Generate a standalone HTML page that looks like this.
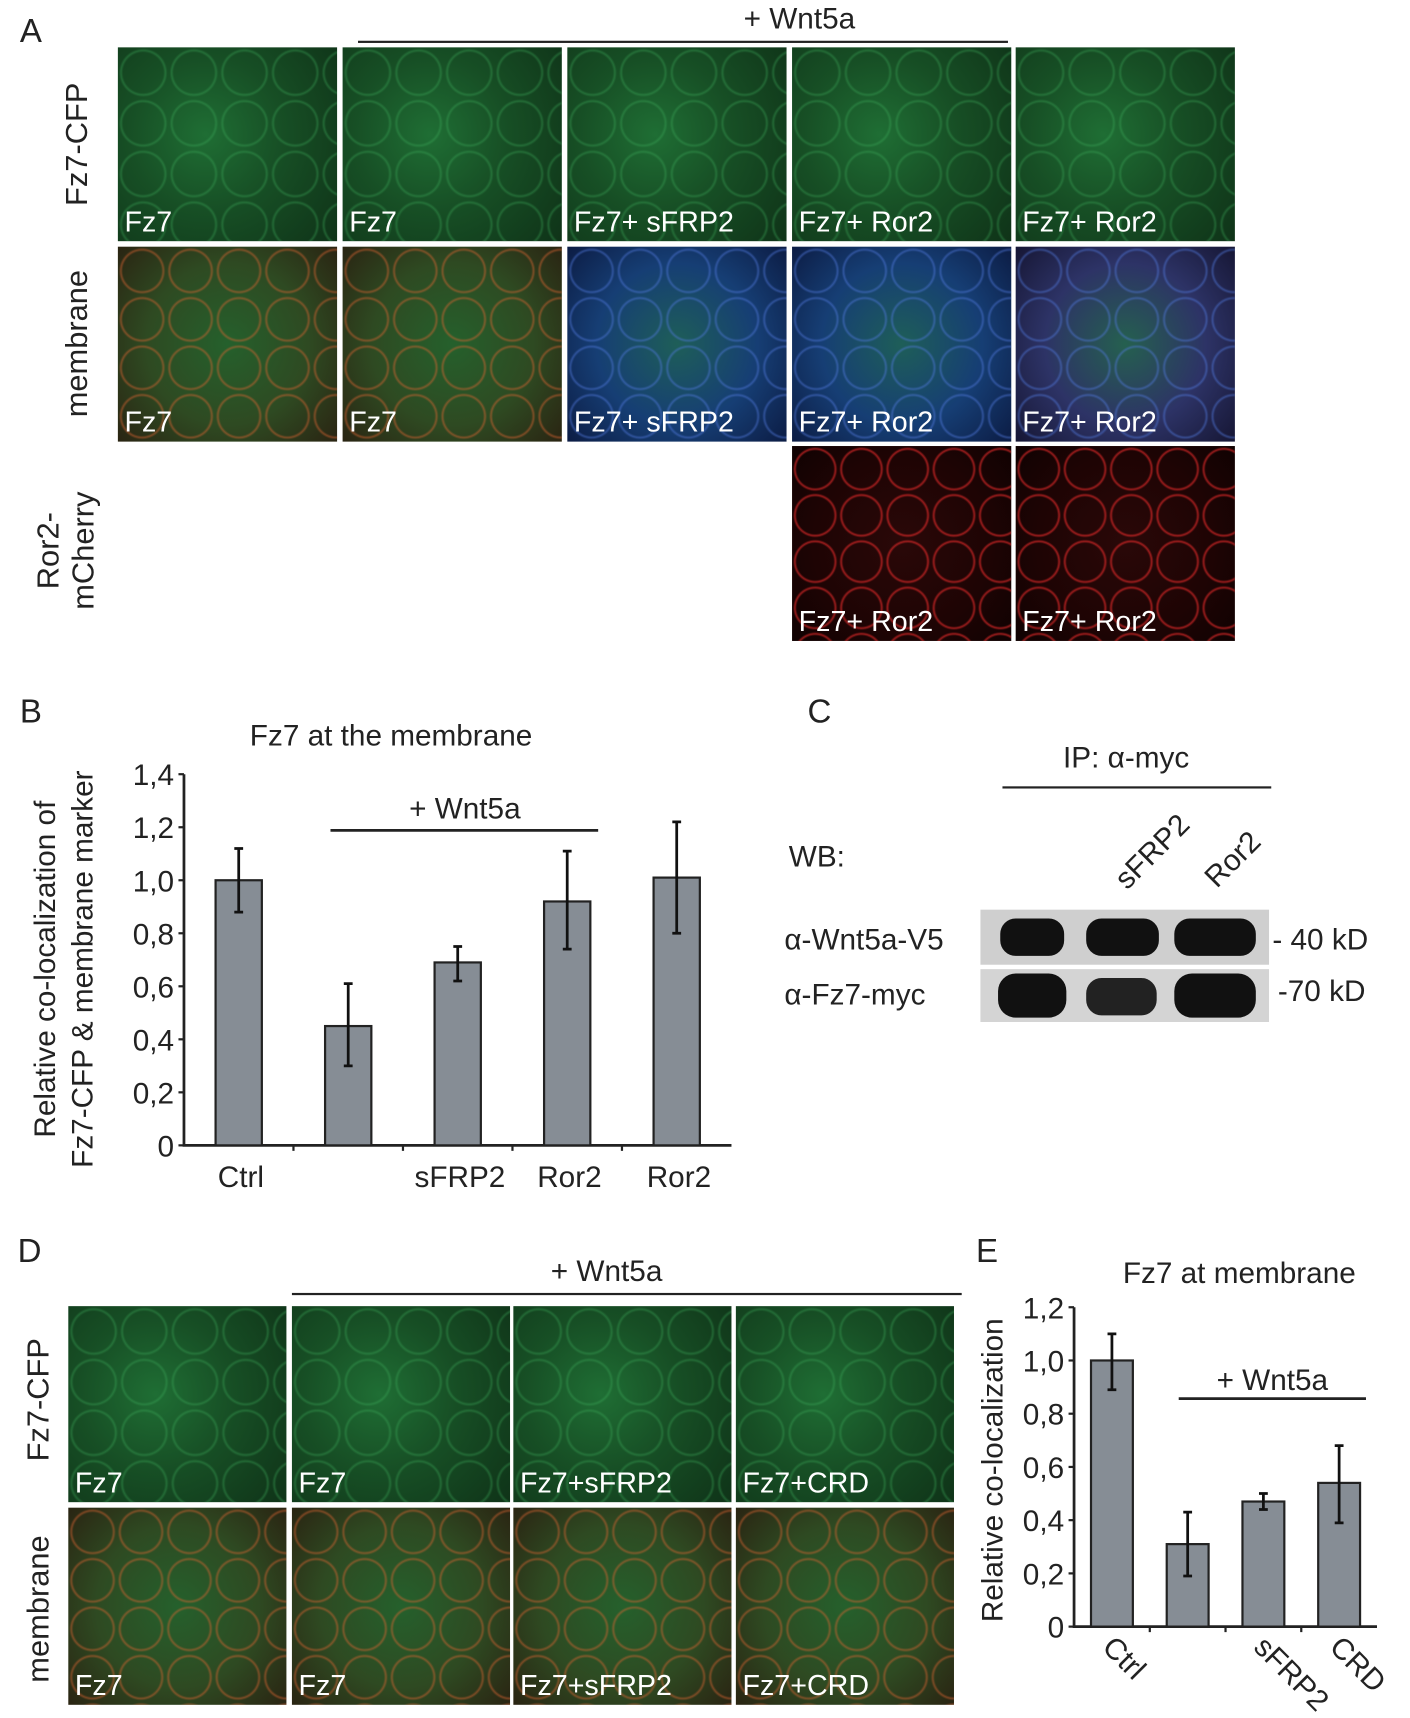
<!DOCTYPE html>
<html><head><meta charset="utf-8"><style>
html,body{margin:0;padding:0;background:#fff;overflow:hidden}
#root{position:absolute;left:0;top:0;width:1280px;height:1560px;transform:scale(1.1016,1.1013);transform-origin:0 0;font-family:"Liberation Sans",sans-serif;color:#222}
.t{position:absolute;white-space:nowrap}
.img{position:absolute;overflow:hidden}
.img span{position:absolute;left:6px;bottom:2px;color:#fff;font-size:26px;white-space:nowrap}
.g{background:radial-gradient(circle at 40% 45%,#1f6e34 0,#174f25 45%,#0f3318 100%)}
.gm{background:radial-gradient(circle at 50% 50%,#25602c 0,#2e4a22 55%,#2a2412 100%)}
.b{background:radial-gradient(circle at 50% 50%,#1e5e58 0,#163e74 55%,#0c1c44 100%)}
.p{background:radial-gradient(circle at 50% 50%,#25604f 0,#2d3366 55%,#161634 100%)}
.r{background:radial-gradient(circle at 50% 50%,#2a0808 0,#1e0404 60%,#100202 100%)}
.cells{position:absolute;inset:0;background:radial-gradient(circle,transparent 56%,rgba(60,170,90,.35) 62%,transparent 68%) 0 0/46px 46px}
.cm{background:radial-gradient(circle,transparent 56%,rgba(220,100,50,.45) 62%,transparent 68%) 0 0/44px 44px}
.cb{background:radial-gradient(circle,transparent 56%,rgba(80,120,220,.45) 62%,transparent 68%) 0 0/44px 44px}
.rc{background:radial-gradient(circle,transparent 56%,rgba(220,40,40,.65) 62%,transparent 68%) 0 0/42px 42px}
.rot{position:absolute;white-space:nowrap;transform-origin:center center}
</style></head><body><div id="root">

<!-- Panel A -->
<div class="t" style="left:18px;top:12px;font-size:30px">A</div>
<div class="t" style="left:675px;top:2px;font-size:27px">+ Wnt5a</div>
<div style="position:absolute;left:325px;top:37px;width:590px;height:2px;background:#222"></div>
<div class="rot" style="left:5px;top:115px;width:130px;font-size:28px;transform:rotate(-90deg);text-align:center">Fz7-CFP</div>
<div class="rot" style="left:-5px;top:296px;width:150px;font-size:28px;transform:rotate(-90deg);text-align:center">membrane</div>
<div class="rot" style="left:-10px;top:468px;width:140px;font-size:28px;line-height:32px;transform:rotate(-90deg);text-align:center">Ror2-<br>mCherry</div>
<div id="panelA"></div>

<!-- Panel B -->
<div class="t" style="left:18px;top:630px;font-size:30px">B</div>
<svg style="position:absolute;left:0;top:640px" width="700" height="470" id="chartB"></svg>

<!-- Panel C -->
<div class="t" style="left:733px;top:630px;font-size:30px">C</div>
<div class="t" style="left:965px;top:673px;font-size:27px">IP: α-myc</div>
<div style="position:absolute;left:910px;top:714px;width:244px;height:2px;background:#222"></div>
<div class="t" style="left:716px;top:763px;font-size:27px">WB:</div>
<div class="rot" style="left:1005px;top:758px;font-size:27px;transform:rotate(-45deg)">sFRP2</div>
<div class="rot" style="left:1090px;top:765px;font-size:27px;transform:rotate(-45deg)">Ror2</div>
<div style="position:absolute;left:890px;top:826px;width:262px;height:50px;background:#cfcfcf">
 <div style="position:absolute;left:18px;top:8px;width:58px;height:34px;border-radius:14px;background:#111"></div>
 <div style="position:absolute;left:96px;top:8px;width:66px;height:34px;border-radius:14px;background:#111"></div>
 <div style="position:absolute;left:176px;top:8px;width:74px;height:34px;border-radius:14px;background:#111"></div>
</div>
<div style="position:absolute;left:890px;top:880px;width:262px;height:48px;background:#d4d4d4">
 <div style="position:absolute;left:16px;top:4px;width:62px;height:40px;border-radius:16px;background:#111"></div>
 <div style="position:absolute;left:96px;top:8px;width:64px;height:34px;border-radius:14px;background:#222"></div>
 <div style="position:absolute;left:176px;top:4px;width:74px;height:40px;border-radius:16px;background:#111"></div>
</div>
<div class="t" style="left:712px;top:838px;font-size:27px">α-Wnt5a-V5</div>
<div class="t" style="left:712px;top:888px;font-size:27px">α-Fz7-myc</div>
<div class="t" style="left:1155px;top:838px;font-size:27px">- 40 kD</div>
<div class="t" style="left:1160px;top:885px;font-size:27px">-70 kD</div>

<!-- Panel D -->
<div class="t" style="left:16px;top:1120px;font-size:30px">D</div>
<div class="t" style="left:500px;top:1139px;font-size:27px">+ Wnt5a</div>
<div style="position:absolute;left:265px;top:1174px;width:608px;height:2px;background:#222"></div>
<div class="rot" style="left:-30px;top:1255px;width:130px;font-size:28px;transform:rotate(-90deg);text-align:center">Fz7-CFP</div>
<div class="rot" style="left:-40px;top:1445px;width:150px;font-size:28px;transform:rotate(-90deg);text-align:center">membrane</div>
<div id="panelD"></div>

<!-- Panel E -->
<div class="t" style="left:886px;top:1120px;font-size:30px">E</div>
<svg style="position:absolute;left:860px;top:1130px" width="420" height="430" id="chartE"></svg>

<script>
// ---- Panel B data ----
const bCats = ["Ctrl", "", "sFRP2", "Ror2", "Ror2"];
const bVals = [1.00, 0.45, 0.69, 0.92, 1.01];
const bErrHi = [1.12, 0.61, 0.75, 1.11, 1.22];
const bErrLo = [0.88, 0.30, 0.62, 0.74, 0.80];
const bTicks = ["0", "0,2", "0,4", "0,6", "0,8", "1,0", "1,2", "1,4"];
// ---- Panel E data ----
const eCats = ["Ctrl", "", "sFRP2", "CRD"];
const eVals = [1.00, 0.31, 0.47, 0.54];
const eErrHi = [1.10, 0.43, 0.50, 0.68];
const eErrLo = [0.89, 0.19, 0.44, 0.39];
const eTicks = ["0", "0,2", "0,4", "0,6", "0,8", "1,0", "1,2"];

const NS = "http://www.w3.org/2000/svg";
function mk(parent, tag, attrs, text){
  const e = document.createElementNS(NS, tag);
  for (const k in attrs) e.setAttribute(k, attrs[k]);
  if (text !== undefined) e.textContent = text;
  parent.appendChild(e); return e;
}

function drawChart(svg, o){
  const y = v => o.y0 - v / o.vmax * (o.y0 - o.ytop);
  const n = o.cats.length;
  const slot = (o.xend - o.x0) / n;
  const x = i => o.x0 + slot * (i + 0.5);
  const ax = mk(svg, "path", {d:`M${o.x0} ${o.ytop} V${o.y0} H${o.xend}`, stroke:"#222", "stroke-width":2.5, fill:"none"});
  
  
  o.ticks.forEach((lab, i) => {
    const v = i * o.vmax / (o.ticks.length - 1);
    const tk = mk(svg, "line", {x1:o.x0-5, x2:o.x0, y1:y(v), y2:y(v), stroke:"#222", "stroke-width":2});
    
    
    const tl = mk(svg, "text", {x:o.x0-9, y:y(v)+10, "text-anchor":"end", "font-size":o.fs, fill:"#222"}, lab);
    
    
  });
  for (let i = 1; i < n; i++) {
    const xt = mk(svg, "line", {x1:o.x0+slot*i, x2:o.x0+slot*i, y1:o.y0, y2:o.y0+5, stroke:"#222", "stroke-width":2});
    
    
  }
  o.vals.forEach((v, i) => {
    const r = mk(svg, "rect", {x:x(i)-o.bw/2, y:y(v), width:o.bw, height:o.y0-y(v), fill:"#868d95", stroke:"#222", "stroke-width":2});
    
    
    const eb = mk(svg, "path", {d:`M${x(i)} ${y(o.hi[i])} V${y(o.lo[i])} M${x(i)-4} ${y(o.hi[i])} h8 M${x(i)-4} ${y(o.lo[i])} h8`, stroke:"#111", "stroke-width":2.5, fill:"none"});
    
    
    if (o.cats[i]) {
      let t;
      if (o.rotLabels) {
        t = mk(svg, "text", {x:x(i)-10, y:o.y0+20, "font-size":o.fs, fill:"#222", transform:`rotate(45 ${x(i)-10} ${o.y0+20})`}, o.cats[i]);
      } else {
        t = mk(svg, "text", {x:x(i)+2, y:o.y0+38, "text-anchor":"middle", "font-size":o.fs, fill:"#222"}, o.cats[i]);
      }
      
      
    }
  });
  return {x, y};
}

// Chart B
const svgB = document.getElementById("chartB");
drawChart(svgB, {cats:bCats, vals:bVals, hi:bErrHi, lo:bErrLo, ticks:bTicks, vmax:1.4,
  x0:167, xend:664, y0:400, ytop:63, bw:42, fs:27});
const bt = mk(svgB, "text", {x:355, y:37, "text-anchor":"middle", "font-size":27, fill:"#222"}, "Fz7 at the membrane");
 
const bw = mk(svgB, "text", {x:422, y:103, "text-anchor":"middle", "font-size":27, fill:"#222"}, "+ Wnt5a");
 
const bl = mk(svgB, "line", {x1:300, x2:543, y1:114, y2:114, stroke:"#222", "stroke-width":2.5});
 
const by1 = mk(svgB, "text", {x:0, y:0, "text-anchor":"middle", "font-size":27, fill:"#222", transform:"translate(50 240) rotate(-90)"}, "Relative co-localization of");
 
const by2 = mk(svgB, "text", {x:0, y:0, "text-anchor":"middle", "font-size":27, fill:"#222", transform:"translate(84 240) rotate(-90)"}, "Fz7-CFP & membrane marker");
 

// Chart E
const svgE = document.getElementById("chartE");
drawChart(svgE, {cats:eCats, vals:eVals, hi:eErrHi, lo:eErrLo, ticks:eTicks, vmax:1.2,
  x0:115, xend:390, y0:347, ytop:57, bw:38, fs:27, rotLabels:true});
const et = mk(svgE, "text", {x:265, y:35, "text-anchor":"middle", "font-size":27, fill:"#222"}, "Fz7 at membrane");
 
const ew = mk(svgE, "text", {x:295, y:132, "text-anchor":"middle", "font-size":27, fill:"#222"}, "+ Wnt5a");
 
const el2 = mk(svgE, "line", {x1:210, x2:380, y1:140, y2:140, stroke:"#222", "stroke-width":2.5});
 
const ey = mk(svgE, "text", {x:0, y:0, "text-anchor":"middle", "font-size":27, fill:"#222", transform:"translate(50 205) rotate(-90)"}, "Relative co-localization");
 

// Microscopy panels
function tile(host, l, t, w, h, cls, label, cellCls){
  const d = document.createElement("div");
  d.className = "img " + cls;
  d.style.cssText = `left:${l}px;top:${t}px;width:${w}px;height:${h}px`;
  
  
  d.innerHTML = `<div class="cells ${cellCls||''}"></div><span>${label}</span>`;
  host.appendChild(d);
}
const A = document.getElementById("panelA");
const colsA = [107, 311, 515, 719, 922];
const labA1 = ["Fz7","Fz7","Fz7+ sFRP2","Fz7+ Ror2","Fz7+ Ror2"];
const clsA2 = ["gm","gm","b","b","p"];
const cellA2 = ["cm","cm","cb","cb","cb"];
colsA.forEach((x,i)=>{
  tile(A, x, 43, 199, 176, "g", labA1[i]);
  tile(A, x, 224, 199, 177, clsA2[i], labA1[i], cellA2[i]);
  if (i >= 3) tile(A, x, 405, 199, 177, "r", "Fz7+ Ror2", "rc");
});
const D = document.getElementById("panelD");
const colsD = [62, 265, 466, 668];
const labD = ["Fz7","Fz7","Fz7+sFRP2","Fz7+CRD"];
colsD.forEach((x,i)=>{
  tile(D, x, 1186, 198, 178, "g", labD[i]);
  tile(D, x, 1369, 198, 179, "gm", labD[i], "cm");
});
</script>
</div></body></html>
